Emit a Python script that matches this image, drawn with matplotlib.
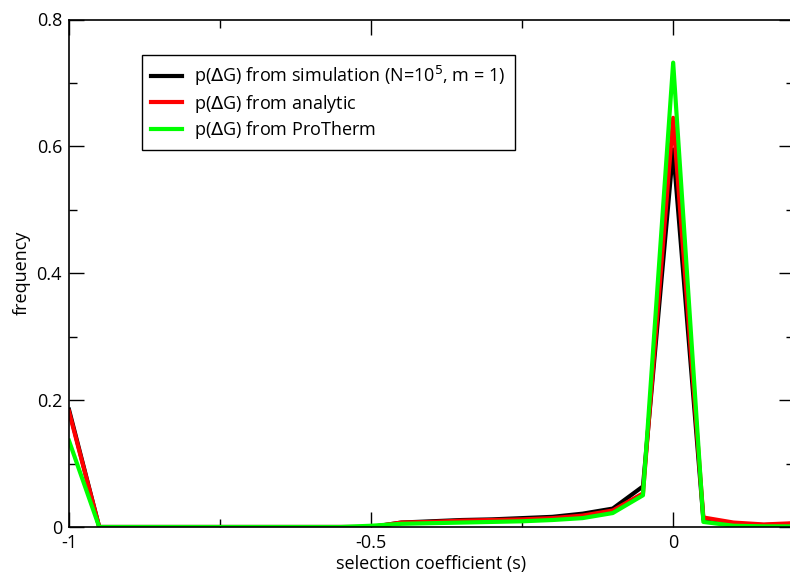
import numpy as np
import matplotlib
matplotlib.use('Agg')
from matplotlib import pyplot as plt
from matplotlib.ticker import MultipleLocator, FuncFormatter

plt.rcParams['font.family'] = ['Open Sans', 'DejaVu Sans']
plt.rcParams['axes.unicode_minus'] = False

# selection coefficient bins
s = [-1.0, -0.95, -0.9, -0.85, -0.8, -0.75, -0.7, -0.65, -0.6, -0.55,
     -0.5, -0.45, -0.4, -0.35, -0.3, -0.25, -0.2, -0.15, -0.1, -0.05,
     0.0, 0.05, 0.1, 0.15, 0.2]

simulation = [0.185, 0.0, 0.0, 0.0, 0.0, 0.0, 0.0, 0.0, 0.0, 0.0,
              0.0, 0.007, 0.009, 0.011, 0.012, 0.014, 0.016, 0.021, 0.029, 0.064,
              0.595, 0.012, 0.005, 0.003, 0.005]
analytic = [0.182, 0.0, 0.0, 0.0, 0.0, 0.0, 0.0, 0.0, 0.0, 0.0,
            0.0, 0.007, 0.008, 0.010, 0.011, 0.012, 0.014, 0.018, 0.026, 0.053,
            0.645, 0.015, 0.007, 0.004, 0.006]
protherm = [0.136, 0.0, 0.0, 0.0, 0.0, 0.0, 0.0, 0.0, 0.0, 0.0,
            0.002, 0.005, 0.006, 0.007, 0.008, 0.009, 0.011, 0.014, 0.022, 0.050,
            0.732, 0.008, 0.002, 0.001, 0.001]

fig = plt.figure(figsize=(7.9, 5.73), dpi=100)
ax = fig.add_axes([69/790, 46/573, 725/790, 507.5/573])

ax.plot(s, simulation, color='black', linewidth=3, label=r'p($\Delta$G) from simulation (N=10$^5$, m = 1)')
ax.plot(s, analytic, color='#ff0000', linewidth=3, label=r'p($\Delta$G) from analytic')
ax.plot(s, protherm, color='#00ff00', linewidth=3, label=r'p($\Delta$G) from ProTherm')

ax.set_xlim(-1, 0.2)
ax.set_ylim(0, 0.8)
ax.xaxis.set_major_locator(MultipleLocator(0.5))
ax.xaxis.set_minor_locator(MultipleLocator(0.25))
ax.yaxis.set_major_locator(MultipleLocator(0.2))
ax.yaxis.set_minor_locator(MultipleLocator(0.1))
ax.xaxis.set_major_formatter(FuncFormatter(lambda v, p: '%g' % round(v, 2)))
ax.yaxis.set_major_formatter(FuncFormatter(lambda v, p: '%g' % round(v, 2)))
ax.tick_params(which='both', direction='in', top=True, right=True, labelsize=13, width=1)
ax.tick_params(which='major', length=11, pad=5)
ax.tick_params(which='minor', length=6)
for sp in ax.spines.values():
    sp.set_linewidth(1.2)

ax.set_xlabel('selection coefficient (s)', fontsize=13, labelpad=2)
ax.set_ylabel('frequency', fontsize=13, labelpad=4)

leg = ax.legend(loc='upper left', bbox_to_anchor=(0.1007, 0.93), borderaxespad=0,
                fontsize=13, fancybox=False, framealpha=1, edgecolor='black',
                handlelength=1.7, handletextpad=0.7, labelspacing=0.25, borderpad=0.5)
leg.get_frame().set_linewidth(1)

fig.savefig('out.png', dpi=100)
